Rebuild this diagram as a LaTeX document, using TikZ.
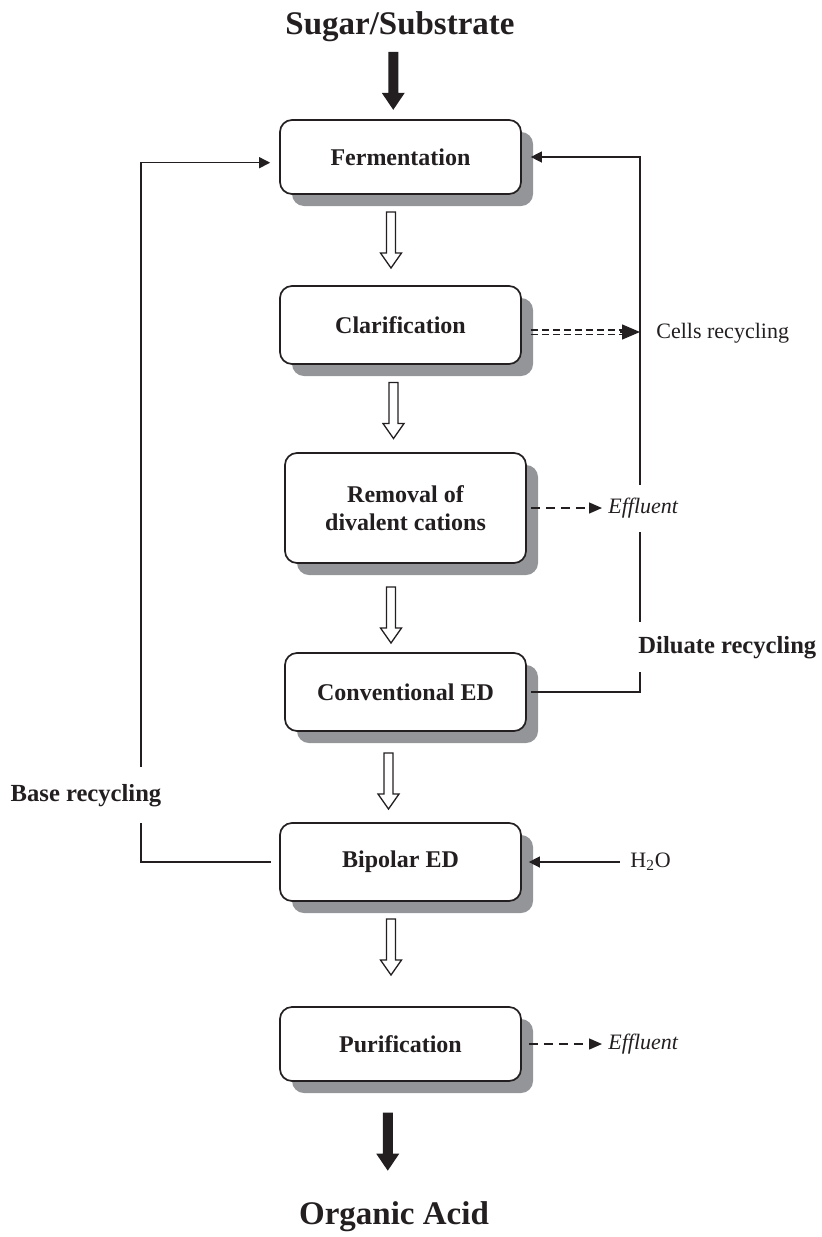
\documentclass[tikz,border=0pt]{standalone}
\usepackage{fontspec}
\setmainfont{Liberation Serif}
\usetikzlibrary{arrows.meta,shadows,calc}
\definecolor{shadowgray}{RGB}{147,149,152}
\definecolor{ink}{RGB}{35,31,32}
\pgfdeclarelayer{foreground}
\pgfsetlayers{main,foreground}
\begin{document}
\begin{tikzpicture}[x=0.5pt,y=-0.5pt,
  procbox/.style={draw=ink, line width=0.85pt, rounded corners=6pt, fill=white,
    minimum width=120.5pt, align=center, text=ink,
    font=\fontsize{12}{14}\selectfont\bfseries, inner sep=0pt,
    drop shadow={shadow xshift=6pt, shadow yshift=-6pt, fill=shadowgray, opacity=1}},
  conn/.style={draw=ink, line width=0.7pt},
  tip/.style={-{Triangle[length=5.5pt,width=5.5pt]}},
  dashconn/.style={conn, dash pattern=on 4.5pt off 3pt, -{Triangle[length=6.5pt,width=5.5pt]}},
  lbl/.style={inner sep=0pt, text=ink, font=\fontsize{11}{13}\selectfont},
  blbl/.style={inner sep=0pt, text=ink, font=\fontsize{12.3}{14}\selectfont\bfseries},
  title/.style={inner sep=0pt, text=ink, font=\fontsize{16.5}{19}\selectfont\bfseries},
  openarrow/.pic={\draw[ink, line width=0.65pt, fill=white, line join=miter]
    (-4.5,-28) -- (4.5,-28) -- (4.5,13) -- (10.5,13) -- (0,28) -- (-10.5,13) -- (-4.5,13) -- cycle;},
  blackarrow/.pic={\fill[ink]
    (-5,-29) -- (5,-29) -- (5,12) -- (11.5,12) -- (0,29) -- (-11.5,12) -- (-5,12) -- cycle;}
]
\useasboundingbox (0,0) rectangle (821,1237);

% process boxes
\node[procbox, minimum height=37pt] (ferm) at (400.5,157) {Fermentation};
\node[procbox, minimum height=39pt] (clar) at (400.5,325) {Clarification};
\node[procbox, minimum height=55pt] (rem) at (405.5,508) {Removal of\\divalent cations};
\node[procbox, minimum height=39pt] (conv) at (405.5,692) {Conventional ED};
\node[procbox, minimum height=39pt] (bip) at (400.5,862) {Bipolar ED};
\node[procbox, minimum height=37pt] (pur) at (400.5,1044) {Purification};

% titles
\node[title] (sugar) at (400,27) {Sugar/Substrate};
\node[title] (acid) at (394,1217) {Organic Acid};

% labels (on top, masking lines)
\begin{pgfonlayer}{foreground}
\node[blbl, fill=white, text height=8.5pt, text depth=2.5pt, inner ysep=8.5pt] (base) at (86,795) {Base recycling};
\node[blbl, fill=white, text height=8.5pt, text depth=2.5pt, inner ysep=7pt, anchor=west] (dil) at (638,647) {Diluate recycling};
\node[lbl, font=\fontsize{11}{13}\selectfont\itshape, fill=white, text height=8pt, text depth=2.5pt, inner ysep=6.5pt, anchor=west] (eff1) at (608,508) {Effluent};
\node[lbl, font=\fontsize{11}{13}\selectfont\itshape, anchor=west] (eff2) at (608,1044) {Effluent};
\node[lbl, anchor=west] (cells) at (656,333) {Cells recycling};
\node[lbl, anchor=west, text height=8pt, text depth=2.5pt] (h2o) at (630,862) {H\textsubscript{2}O};
\end{pgfonlayer}

% main flow arrows
\pic at ($(sugar.south)!0.5!(ferm.north)+(-7,0)$) {blackarrow};
\pic at ($(ferm.south)!0.5!(clar.north)+(-9.5,0)$) {openarrow};
\pic at ($(clar.south)!0.5!(rem.north)+(-9.5,2)$) {openarrow};
\pic at ($(rem.south)!0.5!(conv.north)+(-14.5,7)$) {openarrow};
\pic at ($(conv.south)!0.5!(bip.north)+(-14.5,4)$) {openarrow};
\pic at ($(bip.south)!0.5!(pur.north)+(-9.5,-7)$) {openarrow};
\pic at ($(pur.south)!0.5!(acid.north)+(-9.5,0)$) {blackarrow};

% recycle loops
\coordinate (rx) at (640,0);
\coordinate (lx) at (141,162.7);
\draw[conn, tip] ([xshift=2pt]conv.east) -| (rx |- ferm.east) -- ([xshift=4.5pt]ferm.east);
\draw[conn, tip, shorten >=4.5pt] ([xshift=-4pt]bip.west) -| (lx) -- (lx -| ferm.west);

% cells recycling (double dashed)
\coordinate (cs) at ([xshift=4.5pt,yshift=-3.5pt]clar.east);
\coordinate (ce) at (rx |- cs);
\draw[conn, line width=0.9pt, dash pattern=on 3.5pt off 2pt] ([yshift=1.2pt]cs) -- ([yshift=1.2pt,xshift=-8pt]ce);
\draw[conn, line width=0.9pt, dash pattern=on 3.5pt off 2pt] ([yshift=-1.2pt]cs) -- ([yshift=-1.2pt,xshift=-8pt]ce);
\draw[conn, -{Triangle[length=9pt,width=7.5pt]}] ([xshift=-10pt]ce) -- (ce);

% effluents and water
\draw[dashconn, shorten >=3pt] ([xshift=2pt]rem.east) -- (eff1.west);
\draw[dashconn, shorten >=3pt] ([xshift=3.5pt]pur.east) -- (eff2.west);
\draw[conn, tip, shorten <=5pt] (h2o.west) -- ([xshift=3.5pt]bip.east);
\end{tikzpicture}
\end{document}
